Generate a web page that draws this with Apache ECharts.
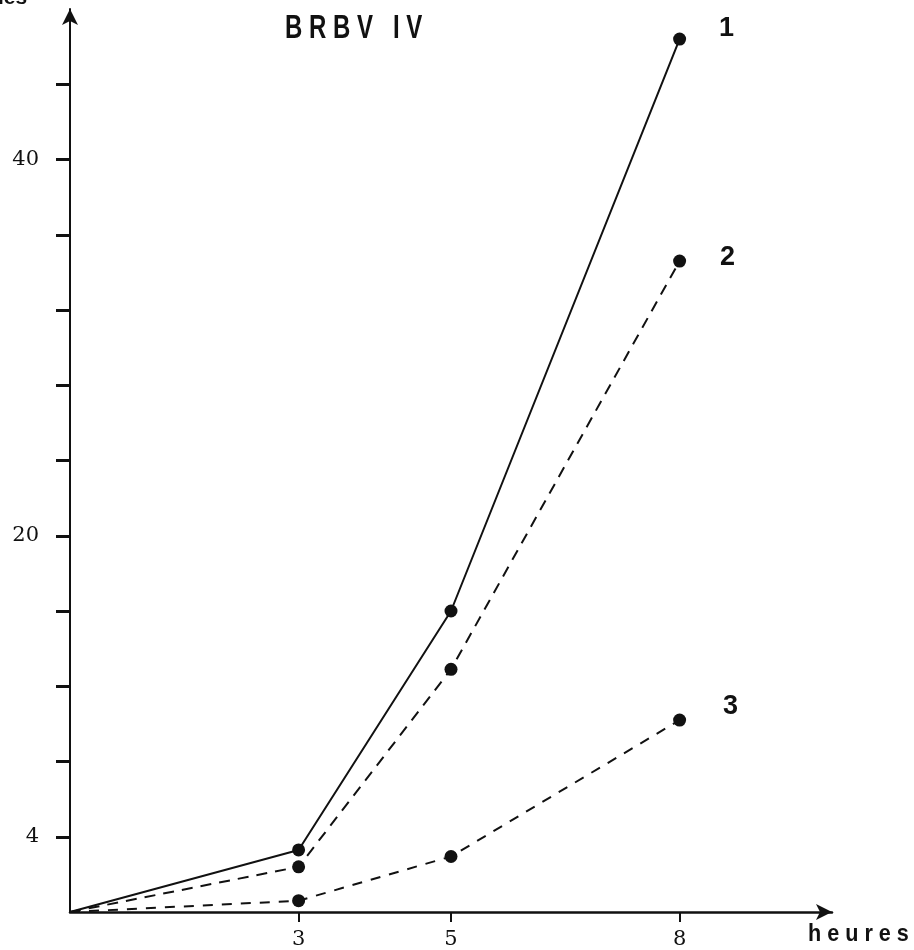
<!DOCTYPE html>
<html>
<head>
<meta charset="utf-8">
<script src="https://cdn.jsdelivr.net/npm/echarts@6/dist/echarts.min.js"></script>
<style>html,body{margin:0;padding:0;background:#fff;}#c{width:914px;height:950px;}</style>
</head>
<body>
<div id="c"></div>
<script>
// ---- data ----
var hours = [0, 3, 5, 8];
var curve1 = [0, 3.3, 16.0, 46.4];
var curve2 = [0, 2.4, 12.9, 34.6];
var curve3 = [0, 0.6, 2.95, 10.2];
var curveNames = ['1', '2', '3'];
var yTickValues = [4, 8, 12, 16, 20, 24, 28, 32, 36, 40, 44];
var yLabelValues = [4, 20, 40];
var xTickValues = [3, 5, 8];
var titleText = 'B R B V   I V';
var xAxisName = 'h e u r e s';
var yAxisNameTail = 'ies';

function pairs(ys) { return hours.map(function (h, i) { return [h, ys[i]]; }); }

var ink = '#111';
var chart = echarts.init(document.getElementById('c'), null, {renderer: 'canvas'});

function mkSeries(name, ys, dash, labelOffset) {
  var d = pairs(ys).map(function (p, i) {
    var o = {value: p};
    if (i === 0) { o.symbol = 'none'; }
    if (i === hours.length - 1) {
      o.label = {show: true, formatter: name, position: 'inside', offset: labelOffset,
        fontFamily: 'Liberation Sans', fontWeight: 'bold', fontSize: 27, color: ink};
    }
    return o;
  });
  return {
    type: 'line', name: name, data: d, symbol: 'circle', symbolSize: 13,
    itemStyle: {color: ink},
    lineStyle: {color: ink, width: 2, type: dash},
    label: {show: false},
    animation: false, silent: true
  };
}

chart.setOption({
  backgroundColor: '#fff',
  animation: false,
  grid: {left: 70, right: 82, top: 9, bottom: 37, containLabel: false},
  xAxis: {
    type: 'value', min: 0, max: 10,
    splitLine: {show: false},
    axisLine: {show: true, lineStyle: {color: ink, width: 2.5}, symbol: ['none', 'arrow'], symbolSize: [12, 16]},
    axisTick: {show: true, customValues: xTickValues, inside: false, length: 10, lineStyle: {color: ink, width: 2}},
    axisLabel: {show: true, customValues: xTickValues, margin: 17, color: ink,
      fontFamily: 'DejaVu Serif, serif', fontSize: 21}
  },
  yAxis: {
    type: 'value', min: 0, max: 48, interval: 4,
    splitLine: {show: false},
    axisLine: {show: true, lineStyle: {color: ink, width: 2}, symbol: ['none', 'arrow'], symbolSize: [12, 16]},
    axisTick: {show: true, customValues: yTickValues, length: 14, lineStyle: {color: ink, width: 3}},
    axisLabel: {show: true, customValues: yLabelValues, margin: 31, color: ink,
      fontFamily: 'DejaVu Serif, serif', fontSize: 21}
  },
  graphic: [
    {type: 'text', x: 285, y: 12, scaleX: 0.8, scaleY: 1.1, style: {text: titleText, fill: ink,
      font: 'bold 30px "Liberation Sans", sans-serif'}},
    {type: 'text', x: 808, y: 922, scaleX: 0.9, style: {text: xAxisName, fill: ink,
      font: 'bold 24px "Liberation Sans", sans-serif'}},
    {type: 'text', x: -2, y: 9, style: {text: yAxisNameTail, fill: ink, verticalAlign: 'bottom',
      font: 'bold 21px "Liberation Sans", sans-serif'}}
  ],
  series: [
    mkSeries(curveNames[0], curve1, 'solid', [47, -11]),
    mkSeries(curveNames[1], curve2, [11, 8], [48, -4]),
    mkSeries(curveNames[2], curve3, [10, 9], [51, -14])
  ]
});
</script>
</body>
</html>
